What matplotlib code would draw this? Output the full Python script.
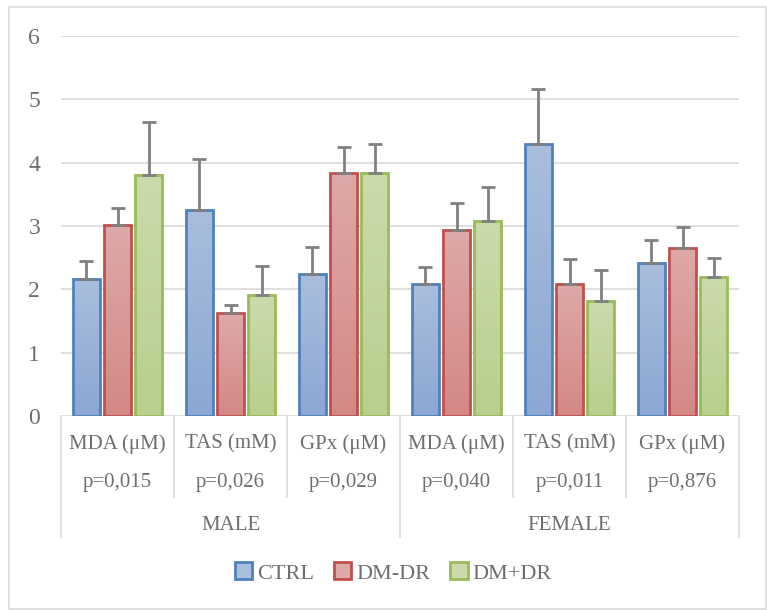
import numpy as np
import matplotlib
matplotlib.use("Agg")
import matplotlib.pyplot as plt
from matplotlib.patches import Patch, Rectangle
from matplotlib.lines import Line2D
from matplotlib.colors import LinearSegmentedColormap

# data
categories = ["MDA (μM)", "TAS (mM)", "GPx (μM)", "MDA (μM)", "TAS (mM)", "GPx (μM)"]
pvalues = ["p=0,015", "p=0,026", "p=0,029", "p=0,040", "p=0,011", "p=0,876"]
groups = ["MALE", "FEMALE"]
series = ["CTRL", "DM-DR", "DM+DR"]
ctrl = [2.16, 3.26, 2.24, 2.08, 4.29, 2.41]
dm_dr = [3.01, 1.62, 3.84, 2.94, 2.08, 2.65]
dm_plus = [3.81, 1.91, 3.83, 3.08, 1.81, 2.20]
ctrl_err = [0.29, 0.80, 0.43, 0.27, 0.87, 0.37]
dm_dr_err = [0.27, 0.14, 0.41, 0.42, 0.40, 0.34]
dm_plus_err = [0.84, 0.46, 0.46, 0.54, 0.50, 0.29]

edge_cols = ["#4F81BD", "#C0504D", "#9BBB59"]
grad_cols = [("#A9BEDD", "#8CA7D3"), ("#DDA9A8", "#D48886"), ("#CADBAB", "#B8CF8E")]
text_col = "#6E6E6E"
plt.rcParams["font.family"] = ["Liberation Serif", "DejaVu Serif"]

W, H = 767, 610
fig = plt.figure(figsize=(W / 100, H / 100), dpi=100)
x0, x1, y0, y1 = 61, 739, 416, 36
ax = fig.add_axes([x0 / W, (H - y0) / H, (x1 - x0) / W, (y0 - y1) / H])

# outer chart border
fig.add_artist(Rectangle((9 / W, 1 / H), 757 / W, 602 / H, transform=fig.transFigure,
                         fill=False, edgecolor="#D9D9D9", linewidth=1.2))

x = np.arange(len(categories)) + 0.5
offsets = [-0.275, 0.0, 0.275]
width = 0.235
vals = [ctrl, dm_dr, dm_plus]
errs = [ctrl_err, dm_dr_err, dm_plus_err]

ax.set_yticks(range(0, 7))
ax.yaxis.grid(True, color="#D9D9D9", linewidth=1.2)
ax.set_axisbelow(True)
for s in ax.spines.values():
    s.set_visible(False)
ax.tick_params(axis="y", length=0, pad=15, labelsize=17, labelcolor=text_col)
ax.tick_params(axis="x", length=0, labelbottom=False)

for i in range(3):
    cmap = LinearSegmentedColormap.from_list("g%d" % i, [grad_cols[i][1], grad_cols[i][0]])
    bars = ax.bar(x + offsets[i], vals[i], width, color="none", edgecolor=edge_cols[i],
                  linewidth=2, zorder=3)
    for b in bars:
        bx, by = b.get_x(), b.get_height()
        grad = np.linspace(0, 1, 64).reshape(-1, 1)
        im = ax.imshow(grad, cmap=cmap, origin="lower", aspect="auto",
                       extent=[bx, bx + width, 0, by], zorder=2)
        im.set_clip_path(b)
    ax.errorbar(x + offsets[i], vals[i], yerr=[np.zeros(len(vals[i])), errs[i]], fmt="none",
                ecolor="#808080", elinewidth=2, capsize=5, capthick=2, zorder=4)
ax.set_xlim(0, len(categories))
ax.set_ylim(0, 6)

# category axis (multi-level labels)
tr = ax.get_xaxis_transform()
def fy(py):
    return (y0 - py) / (y0 - y1)
for xi, c, p in zip(x, categories, pvalues):
    ax.text(xi, fy(444), c, transform=tr, ha="center", va="center", fontsize=15, color=text_col)
    ax.text(xi, fy(483), p, transform=tr, ha="center", va="center", fontsize=15, color=text_col)
for gi, g in enumerate(groups):
    ax.text(gi * 3 + 1.5, fy(525), g, transform=tr, ha="center", va="center", fontsize=15, color=text_col)
for k in range(len(categories) + 1):
    bottom = fy(537) if k % 3 == 0 else fy(497)
    ax.add_line(Line2D([k, k], [0, bottom], transform=tr, color="#D9D9D9", linewidth=1.2, clip_on=False))

handles = [Patch(facecolor=grad_cols[i][0], edgecolor=edge_cols[i], linewidth=2) for i in range(3)]
fig.legend(handles, series, loc="center", bbox_to_anchor=(393 / W, (H - 573) / H), ncol=3,
           frameon=False, fontsize=16, handlelength=0.8, handleheight=0.8,
           handletextpad=0.2, columnspacing=0.9, labelcolor=text_col)

fig.savefig("out.png", dpi=100)
